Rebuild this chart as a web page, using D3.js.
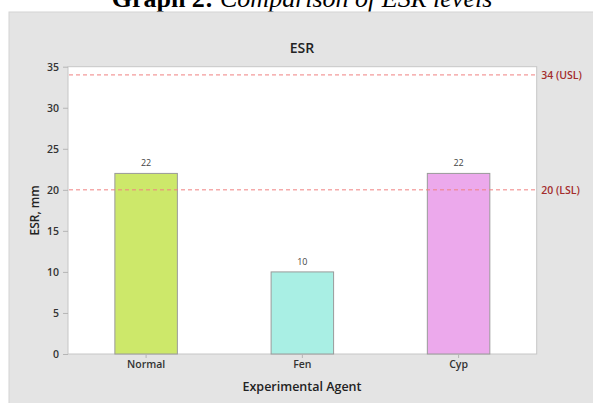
<!DOCTYPE html>
<html><head><meta charset="utf-8">
<script src="https://cdn.jsdelivr.net/npm/d3@7"></script>
<style>
html,body{margin:0;padding:0;background:#fff;}
svg{display:block;}
</style></head>
<body>
<svg id="chart" width="593" height="403"></svg>
<script>
const categories = ["Normal", "Fen", "Cyp"];
const esrValues = [22, 10, 22];
const barColors = ["#cde86a", "#a9efe4", "#eca9ec"];
const yTicks = [0, 5, 10, 15, 20, 25, 30, 35];
const refValues = [34, 20];
const refLabels = ["34 (USL)", "20 (LSL)"];

const svg = d3.select("#chart");
const font = "'Open Sans', 'Noto Sans', sans-serif";

// figure caption (top is clipped in the reference)
const cap = svg.append("text").attr("x", 302).attr("y", 7).attr("text-anchor", "middle")
  .attr("font-family", "'Liberation Serif', 'Times New Roman', serif")
  .attr("font-size", 26).attr("fill", "#000");
cap.append("tspan").attr("font-weight", "bold").text("Graph 2:");
cap.append("tspan").attr("font-style", "italic").text(" Comparison of ESR levels");

// panel
svg.append("rect").attr("x", 9).attr("y", 12).attr("width", 590).attr("height", 396)
  .attr("fill", "#e4e4e4").attr("stroke", "#d4d4d4").attr("stroke-width", 1);

const m = {left: 68, top: 66.7, right: 536.7, bottom: 354};
const x = d3.scaleBand().domain(categories).range([m.left, m.right])
  .paddingInner(0.6).paddingOuter(0.3);
const y = d3.scaleLinear().domain([0, 35]).range([m.bottom, m.top]);

// plot area
svg.append("rect").attr("x", m.left).attr("y", m.top)
  .attr("width", m.right - m.left).attr("height", m.bottom - m.top)
  .attr("fill", "#fff").attr("stroke", "#c6c6c6").attr("stroke-width", 1);

// bars
svg.append("g").selectAll("rect").data(categories).join("rect")
  .attr("x", d => x(d)).attr("width", x.bandwidth())
  .attr("y", (d, i) => y(esrValues[i]))
  .attr("height", (d, i) => y(0) - y(esrValues[i]))
  .attr("fill", (d, i) => barColors[i])
  .attr("stroke", "#9a9a9a").attr("stroke-width", 1);

// value labels
svg.append("g").selectAll("text").data(categories).join("text")
  .attr("x", d => x(d) + x.bandwidth() / 2)
  .attr("y", (d, i) => y(esrValues[i]) - 7)
  .attr("text-anchor", "middle")
  .attr("font-family", font).attr("font-size", 9).attr("fill", "#444")
  .text((d, i) => esrValues[i]);

// reference lines
refValues.forEach((v, i) => {
  svg.append("line").attr("x1", m.left + 1).attr("x2", m.right)
    .attr("y1", y(v)).attr("y2", y(v))
    .attr("stroke", "#f08080").attr("stroke-width", 1).attr("stroke-dasharray", "4,3");
  svg.append("text").attr("x", m.right + 4.5).attr("y", y(v)).attr("dy", "0.35em")
    .attr("font-family", font).attr("font-size", 10.5).attr("font-weight", 600)
    .attr("fill", "#a32c2c").text(refLabels[i]);
});

// y axis
const yAxis = svg.append("g").attr("transform", `translate(${m.left},0)`)
  .call(d3.axisLeft(y).tickValues(yTicks).tickSize(5).tickPadding(4));
yAxis.select(".domain").remove();
yAxis.selectAll("line").attr("stroke", "#b5b5b5");
yAxis.selectAll("text").attr("font-family", font).attr("font-size", 10.5)
  .attr("font-weight", 600).attr("fill", "#333");

// x axis
const xAxis = svg.append("g").attr("transform", `translate(0,${m.bottom})`)
  .call(d3.axisBottom(x).tickSize(4).tickPadding(3));
xAxis.select(".domain").remove();
xAxis.selectAll("line").attr("stroke", "#b5b5b5");
xAxis.selectAll("text").attr("font-family", font).attr("font-size", 10.5)
  .attr("font-weight", 600).attr("fill", "#333");

// titles
svg.append("text").attr("x", 302).attr("y", 48).attr("dy", "0.35em")
  .attr("text-anchor", "middle").attr("font-family", font)
  .attr("font-size", 14).attr("font-weight", 600).attr("fill", "#222").text("ESR");
svg.append("text").attr("x", 302).attr("y", 387).attr("dy", "0.35em")
  .attr("text-anchor", "middle").attr("font-family", font)
  .attr("font-size", 12.5).attr("font-weight", 600).attr("fill", "#222").text("Experimental Agent");
svg.append("text").attr("transform", `translate(35,${(m.top + m.bottom) / 2}) rotate(-90)`)
  .attr("dy", "0.35em").attr("text-anchor", "middle").attr("font-family", font)
  .attr("font-size", 12).attr("font-weight", 600).attr("fill", "#222").text("ESR, mm");
</script>
</body></html>
